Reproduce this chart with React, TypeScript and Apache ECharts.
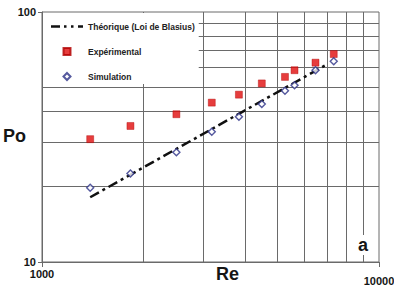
import React, { useEffect, useRef } from "react";
import * as echarts from "echarts";

const reValues = [1390, 1830, 2505, 3190, 3840, 4490, 5260, 5615, 6480, 7340];
const poExperimental = [31.0, 35.0, 39.0, 43.4, 46.7, 51.8, 55.0, 58.5, 62.7, 67.9];
const poSimulation = [19.8, 22.6, 27.5, 33.2, 38.1, 42.9, 48.4, 50.9, 58.5, 63.5];
const theoryRe = [1390, 6900];
const theoryPo = [18.15, 61.0];
const xGridValues = [2000, 3000, 4000, 5000, 6000, 7000, 8000, 9000];
const yGridValues = [20, 30, 40, 50, 60, 70, 80, 90];
const seriesNames = ["Théorique (Loi de Blasius)", "Expérimental", "Simulation"];

const GRID_COLOR = "#6a6a6a";
const TEXT_COLOR = "#151515";
const FONT = "Arial, 'Liberation Sans', sans-serif";

export default function App() {
  const ref = useRef<HTMLDivElement>(null);
  useEffect(() => {
    if (!ref.current) return;
    const chart = echarts.init(ref.current, undefined, { renderer: "svg" });
    const option: any = {
      animation: false,
      backgroundColor: "#ffffff",
      grid: {
        left: 42,
        right: 15,
        top: 12,
        bottom: 24,
        containLabel: false,
        outerBoundsMode: "none",
        show: true,
        borderColor: GRID_COLOR,
        borderWidth: 1,
        backgroundColor: "transparent",
      },
      xAxis: {
        type: "log",
        logBase: 10,
        min: 1000,
        max: 10000,
        splitLine: { show: false },
        minorSplitLine: { show: false },
        axisLine: { show: true, lineStyle: { color: GRID_COLOR, width: 1 } },
        axisTick: { show: true, length: 5, lineStyle: { color: GRID_COLOR } },
        axisLabel: {
          show: true,
          showMinLabel: true,
          showMaxLabel: true,
          hideOverlap: false,
          margin: 6,
          formatter: (v: number) => (v >= 10000 ? "{b|" + String(v) + "}" : "{a|" + String(v) + "}"),
          rich: {
            a: { fontFamily: FONT, fontWeight: "bold", fontSize: 11, color: TEXT_COLOR },
            b: {
              fontFamily: FONT,
              fontWeight: "bold",
              fontSize: 11,
              color: TEXT_COLOR,
              padding: [7, 0, 0, 0],
            },
          },
        },
      },
      yAxis: {
        type: "log",
        logBase: 10,
        min: 10,
        max: 100,
        splitLine: { show: false },
        minorSplitLine: { show: false },
        axisLine: { show: true, lineStyle: { color: GRID_COLOR, width: 1 } },
        axisTick: { show: true, length: 4, lineStyle: { color: GRID_COLOR } },
        axisLabel: {
          show: true,
          margin: 6,
          fontFamily: FONT,
          fontWeight: "bold",
          fontSize: 11,
          color: TEXT_COLOR,
        },
      },
      legend: {
        data: [
          {
            name: seriesNames[0],
            icon: "path://M0,0 L9,0 L9,2.6 L0,2.6 Z M13,0 L15.5,0 L15.5,2.6 L13,2.6 Z M20,0 L22.5,0 L22.5,2.6 L20,2.6 Z M27,0 L32,0 L32,2.6 L27,2.6 Z",
            itemStyle: { color: "#111111", borderWidth: 0 },
          },
          { name: seriesNames[1], icon: "path://M0,0 L10,0 L10,10 L0,10 Z" },
          { name: seriesNames[2], icon: "path://M5,0 L10,5 L5,10 L0,5 Z" },
        ],
        symbolKeepAspect: true,
        orient: "vertical",
        left: 43,
        top: 13,
        padding: [9, 4, 3, 8],
        itemGap: 16,
        itemWidth: 32,
        itemHeight: 7,
        backgroundColor: "#ffffff",
        borderWidth: 0,
        selectedMode: false,
        z: 10,
        textStyle: {
          fontFamily: FONT,
          fontWeight: "bold",
          fontSize: 8.5,
          color: "#222222",
          padding: [0, 0, 0, 0],
        },
      },
      series: [
        {
          name: "grid",
          type: "line",
          data: [],
          z: 1,
          silent: true,
          markLine: {
            silent: true,
            z: 1,
            symbol: "none",
            animation: false,
            label: { show: false },
            lineStyle: { color: GRID_COLOR, width: 1, type: "solid" },
            emphasis: { disabled: true },
            data: [
              ...xGridValues.map((v) => ({ xAxis: v })),
              ...yGridValues.map((v) => ({ yAxis: v })),
            ],
          },
        },
        {
          name: seriesNames[0],
          type: "line",
          z: 3,
          showSymbol: false,
          symbol: "none",
          data: theoryRe.map((r, i) => [r, theoryPo[i]]),
          lineStyle: { color: "#111111", width: 2.5, type: [10, 4, 3, 4] },
          itemStyle: { color: "#111111" },
        },
        {
          name: seriesNames[1],
          type: "scatter",
          z: 4,
          symbol: "rect",
          symbolSize: 7,
          data: reValues.map((r, i) => [r, poExperimental[i]]),
          itemStyle: { color: "#e00d0d", borderColor: "#b00000", borderWidth: 0.5 },
        },
        {
          name: seriesNames[2],
          type: "scatter",
          z: 5,
          symbol: "diamond",
          symbolSize: 7,
          data: reValues.map((r, i) => [r, poSimulation[i]]),
          itemStyle: { color: "#ffffff", borderColor: "#2b2f86", borderWidth: 1.4 },
        },
      ],
      graphic: [
        {
          type: "text",
          z: 100,
          left: 3,
          top: 127,
          style: { text: "Po", fontFamily: FONT, fontWeight: "bold", fontSize: 18, fill: TEXT_COLOR },
        },
        {
          type: "text",
          z: 100,
          left: 216,
          top: 265,
          style: { text: "Re", fontFamily: FONT, fontWeight: "bold", fontSize: 18, fill: TEXT_COLOR },
        },
        {
          type: "text",
          z: 100,
          left: 357,
          top: 235,
          style: {
            text: "a",
            fontFamily: FONT,
            fontWeight: "bold",
            fontSize: 18,
            fill: TEXT_COLOR,
            backgroundColor: "#ffffff",
            padding: [1, 1, 1, 1],
          },
        },
      ],
    };
    chart.setOption(option);
    return () => chart.dispose();
  }, []);
  return <div ref={ref} style={{ width: 394, height: 286, position: "absolute", left: 0, top: 0 }} />;
}
